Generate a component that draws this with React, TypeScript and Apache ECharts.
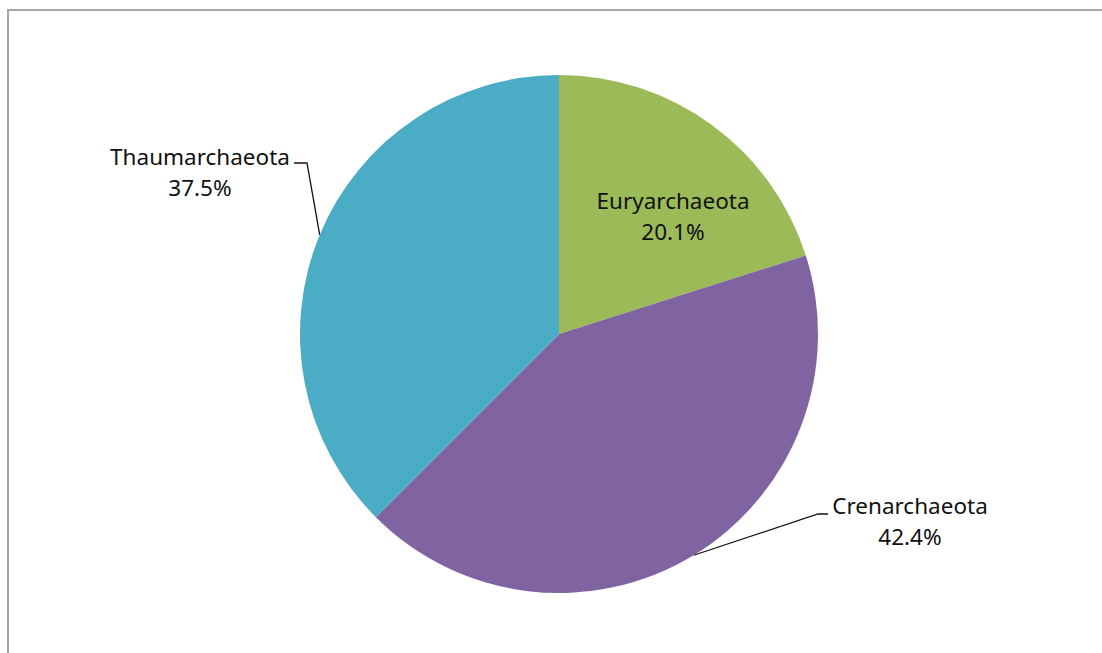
import React, { useEffect, useRef } from "react";
import * as echarts from "echarts";

const categories = ["Euryarchaeota", "Crenarchaeota", "Thaumarchaeota"];
const values = [20.1, 42.4, 37.5];
const colors = ["#9BBB59", "#8064A2", "#4BACC6"];

export default function App() {
  const ref = useRef<HTMLDivElement>(null);
  useEffect(() => {
    if (!ref.current) return;
    const chart = echarts.init(ref.current, null, { renderer: "svg" });
    const font = "Noto Sans";
    const data = categories.map((name, i) => ({
      name,
      value: values[i],
      itemStyle: { color: colors[i] },
      label:
        i === 0
          ? { position: "inside" }
          : { position: "outside" },
      labelLine: { show: i !== 0 },
    }));
    chart.setOption({
      animation: false,
      backgroundColor: "#ffffff",
      graphic: [
        {
          type: "rect",
          shape: { x: 8, y: 10, width: 1200, height: 700 },
          style: { fill: "none", stroke: "#a6a6a6", lineWidth: 2 },
          silent: true,
        },
      ],
      series: [
        {
          type: "pie",
          center: [559, 334],
          radius: 259,
          startAngle: 90,
          clockwise: true,
          percentPrecision: 1,
          avoidLabelOverlap: false,
          label: {
            formatter: "{b}\n{d}%",
            fontFamily: font,
            fontSize: 22.5,
            lineHeight: 31,
            color: "#111111",
            align: "center",
          },
          labelLine: {
            lineStyle: { color: "#111111", width: 1.3 },
          },
          labelLayout: (params: any) => {
            const p0 = params.labelLinePoints ? params.labelLinePoints[0] : null;
            if (params.dataIndex === 0) {
              return { x: 673, y: 216, align: "center", verticalAlign: "middle" };
            }
            if (params.dataIndex === 1) {
              return {
                x: 910,
                y: 521,
                align: "center",
                verticalAlign: "middle",
                labelLinePoints: p0 ? [p0, [818, 514], [828, 514]] : undefined,
              };
            }
            return {
              x: 200,
              y: 172,
              align: "center",
              verticalAlign: "middle",
              labelLinePoints: p0 ? [p0, [307, 163], [294, 163]] : undefined,
            };
          },
          data,
        },
      ],
    });
    return () => chart.dispose();
  }, []);
  return (
    <div
      ref={ref}
      style={{ position: "fixed", left: 0, top: 0, width: 1102, height: 653 }}
    />
  );
}
